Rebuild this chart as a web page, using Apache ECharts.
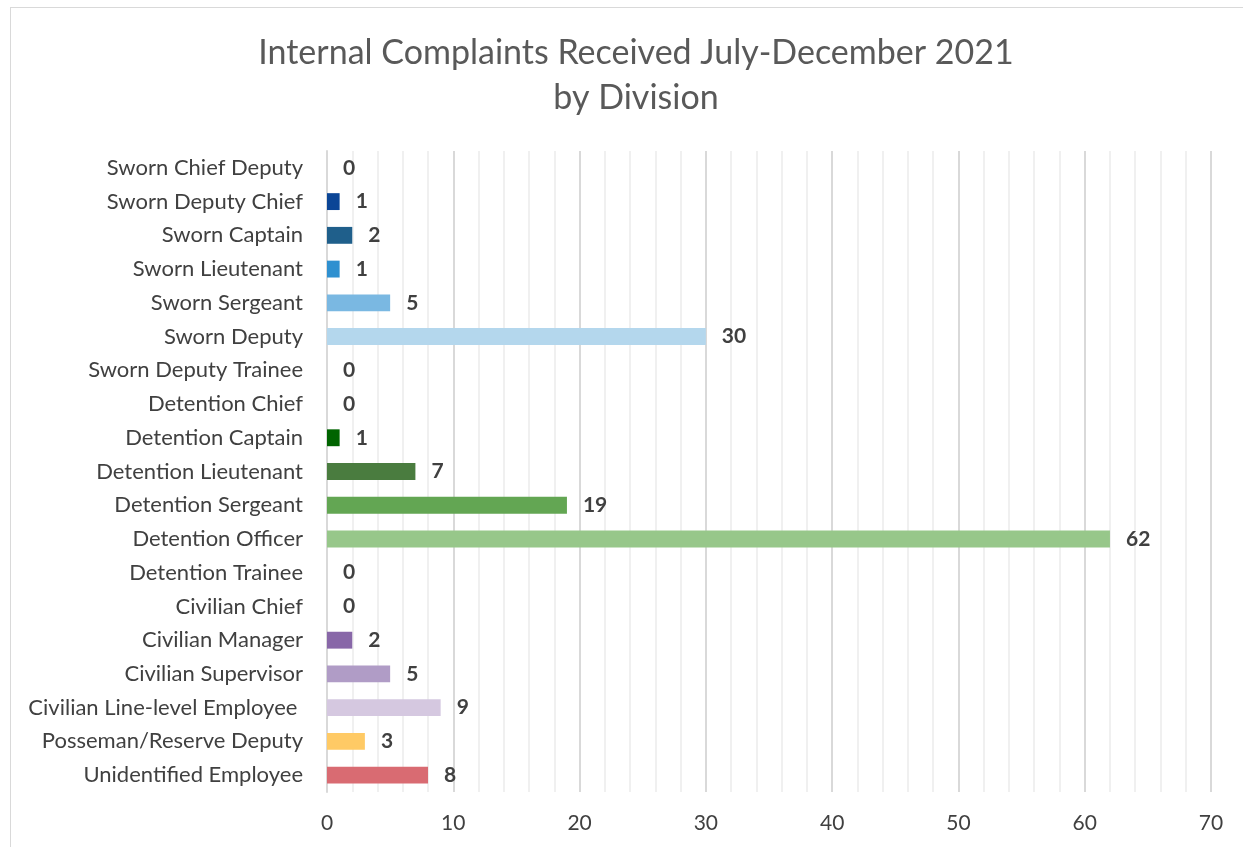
<!DOCTYPE html>
<html>
<head>
<meta charset="utf-8">
<script src="https://cdn.jsdelivr.net/npm/echarts@6/dist/echarts.min.js"></script>
<style>
  html, body { margin: 0; padding: 0; background: #fff; }
  #frame {
    position: absolute; left: 10px; top: 7px; width: 1240px; height: 850px;
    border: 1px solid #d9d9d9; box-sizing: border-box;
  }
  #chart { position: absolute; left: 0; top: 0; width: 1243px; height: 847px; }
</style>
</head>
<body>
<div id="frame"></div>
<div id="chart"></div>
<script>
// 分类
const divisions = [
  'Sworn Chief Deputy', 'Sworn Deputy Chief', 'Sworn Captain', 'Sworn Lieutenant',
  'Sworn Sergeant', 'Sworn Deputy', 'Sworn Deputy Trainee', 'Detention Chief',
  'Detention Captain', 'Detention Lieutenant', 'Detention Sergeant', 'Detention Officer',
  'Detention Trainee', 'Civilian Chief', 'Civilian Manager', 'Civilian Supervisor',
  'Civilian Line-level Employee ', 'Posseman/Reserve Deputy', 'Unidentified Employee'
]
const complaints = [0, 1, 2, 1, 5, 30, 0, 0, 1, 7, 19, 62, 0, 0, 2, 5, 9, 3, 8]
const barColors = [
  '#0b4596', '#0b4596', '#1f5f8b', '#2e90d0', '#7ab8e2', '#b4d7ed', '#b4d7ed', '#006400',
  '#006400', '#4a7c3f', '#63a653', '#97c78a', '#97c78a', '#8867a8', '#8867a8', '#b09cc6',
  '#d5c8e0', '#ffca65', '#d96b72'
]
const xTicks = [0, 10, 20, 30, 40, 50, 60, 70]

const font = 'Lato'
const chart = echarts.init(document.getElementById('chart'))

chart.setOption({
  animation: false,
  title: {
    text: 'Internal Complaints Received July-December 2021\nby Division',
    left: 631,
    top: 26,
    textAlign: 'center',
    textStyle: {
      fontFamily: font,
      fontSize: 34,
      fontWeight: 'normal',
      color: '#595959',
      lineHeight: 45
    }
  },
  grid: {
    left: 327,
    right: 32,
    top: 151,
    bottom: 55,
    containLabel: false
  },
  xAxis: {
    type: 'value',
    min: 0,
    max: 70,
    interval: 10,
    axisLine: { show: false },
    axisTick: { show: false },
    axisLabel: {
      fontFamily: font,
      fontSize: 21,
      color: '#404040',
      margin: 21,
      formatter: v => (xTicks.includes(v) ? String(v) : '')
    },
    splitLine: { lineStyle: { color: '#d9d9d9', width: 2 } },
    minorTick: { show: false, splitNumber: 5 },
    minorSplitLine: { show: true, lineStyle: { color: '#f0f0f0', width: 2 } }
  },
  yAxis: {
    type: 'category',
    data: divisions,
    inverse: true,
    axisLine: { show: true, lineStyle: { color: '#d9d9d9', width: 2 } },
    axisTick: { show: false },
    axisLabel: {
      fontFamily: font,
      fontSize: 22,
      color: '#404040',
      margin: 24
    }
  },
  series: [
    {
      type: 'bar',
      barWidth: '50%',
      data: complaints.map((v, i) => ({
        value: v,
        itemStyle: { color: barColors[i] }
      })),
      label: {
        show: true,
        position: 'right',
        distance: 16,
        fontFamily: font,
        fontSize: 21,
        fontWeight: 'bold',
        color: '#404040'
      }
    }
  ]
})
</script>
</body>
</html>
